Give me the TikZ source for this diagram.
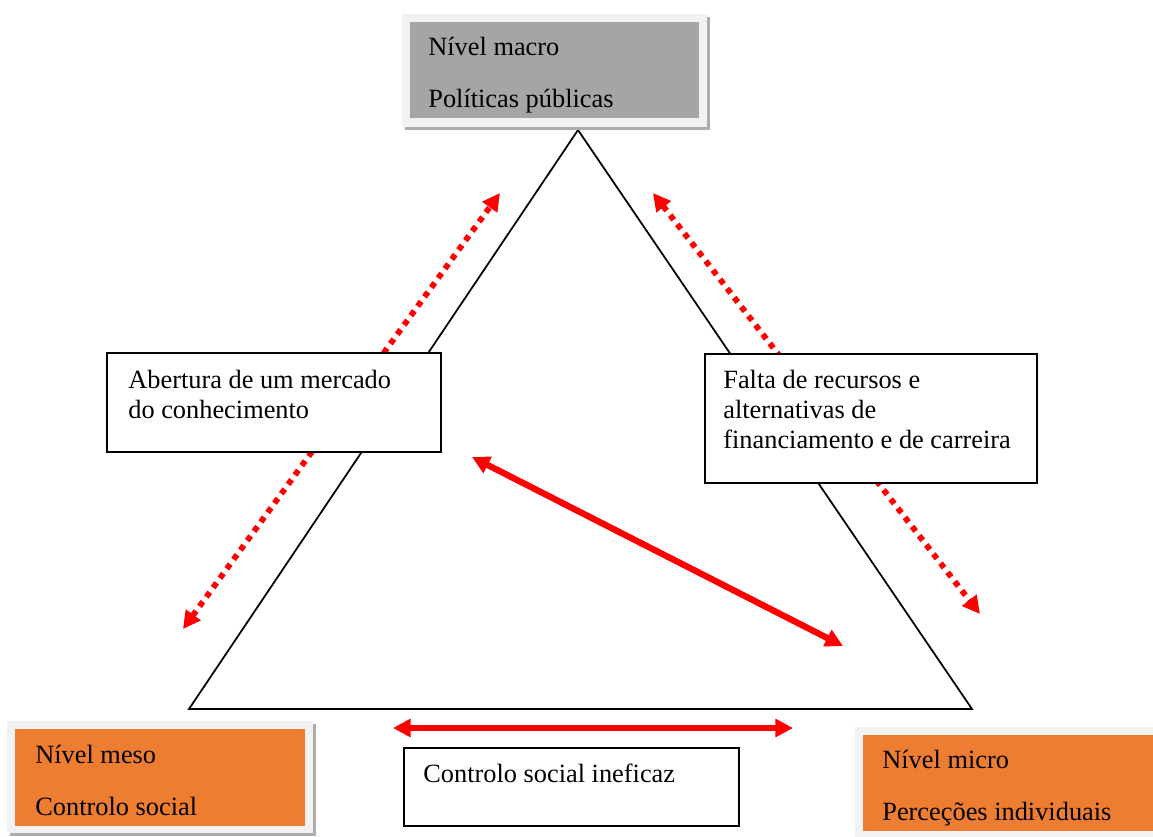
\documentclass[tikz,border=0pt]{standalone}
\usepackage{fontspec}
\setmainfont{Liberation Serif}
\usetikzlibrary{arrows.meta}

\definecolor{laranja}{HTML}{ED7D31}
\definecolor{cinza}{HTML}{A5A5A5}
\definecolor{moldura}{HTML}{F2F2F2}
\definecolor{sombra}{HTML}{ADADAD}

\tikzset{
  caixa/.style={draw=black, line width=1pt, fill=white, anchor=north west, inner sep=0pt},
  nivel/.style={anchor=north west, inner sep=0pt},
  linha/.style={anchor=base west, inner sep=0pt, font=\fontsize{15}{16.5}\selectfont},
  seta/.style={red, line width=3.6pt, {Triangle[length=10pt,width=10pt]}-{Triangle[length=10pt,width=10pt]}},
  pontilhada/.style={red, line width=3.3pt, dash pattern=on 3.3pt off 3.3pt, {Triangle[length=10pt,width=10pt]}-{Triangle[length=10pt,width=10pt]}},
}

\begin{document}
\begin{tikzpicture}[x=0.02cm, y=-0.02cm]
    \clip (0,0) rectangle (1153,836);
    \fill[white] (0,0) rectangle (1153,836);

    % triangle
    \coordinate (apex) at (578,130);
    \coordinate (cantoMeso) at (189,709);
    \coordinate (cantoMicro) at (972,709);
    \draw[line width=1pt] (apex) -- (cantoMeso) -- (cantoMicro) -- cycle;

    % arrow ends
    \coordinate (esqBaixo) at (183,629);
    \coordinate (esqCima) at (500,193);
    \coordinate (dirCima) at (653,193);
    \coordinate (dirBaixo) at (980,614);
    \coordinate (diagCima) at (472,457);
    \coordinate (diagBaixo) at (843,646);
    \coordinate (horEsq) at (393,728);
    \coordinate (horDir) at (793,728);

    \draw[pontilhada] (esqBaixo) -- (esqCima); % meso - macro
    \draw[pontilhada] (dirCima) -- (dirBaixo); % macro - micro
    \draw[seta] (diagCima) -- (diagBaixo); % inside
    \draw[seta, line width=3.3pt] (horEsq) -- (horDir); % meso - micro

    % macro level
    \fill[sombra] (405,17) rectangle (710,130); % shadow
    \fill[moldura] (402,14) rectangle (707,127);
    \node[nivel, fill=cinza, minimum width=5.78cm, minimum height=1.92cm] (macro) at (410,22) {};
    \node[linha] (macro1) at (428,55) {Nível macro};
    \node[linha] (macro2) at (428,107) {Políticas públicas};

    % meso level
    \fill[sombra] (10,724) rectangle (316,836); % shadow
    \fill[moldura] (7,721) rectangle (313,833);
    \node[nivel, fill=laranja, minimum width=5.8cm, minimum height=1.94cm] (meso) at (15,729) {};
    \node[linha] (meso1) at (35,763) {Nível meso};
    \node[linha] (meso2) at (35,815) {Controlo social};

    % micro level
    \fill[moldura] (855,727) rectangle (1170,845);
    \node[nivel, fill=laranja, minimum width=6.2cm, minimum height=1.92cm] (micro) at (863,735) {};
    \node[linha] (micro1) at (882,768) {Nível micro};
    \node[linha] (micro2) at (882,820) {Perceções individuais};

    % white boxes
    \node[caixa, minimum width=6.68cm, minimum height=1.98cm] (abertura) at (106,352) {};
    \node[linha] (abertura1) at (128,388) {Abertura de um mercado};
    \node[linha] (abertura2) at (128,418) {do conhecimento};

    \node[caixa, minimum width=6.64cm, minimum height=2.58cm] (falta) at (704,353) {};
    \node[linha] (falta1) at (723,388) {Falta de recursos e};
    \node[linha] (falta2) at (723,418) {alternativas de};
    \node[linha] (falta3) at (723,448) {financiamento e de carreira};

    \node[caixa, minimum width=6.7cm, minimum height=1.56cm] (ineficaz) at (403,747) {};
    \node[linha] (ineficaz1) at (423,782) {Controlo social ineficaz};
\end{tikzpicture}
\end{document}
